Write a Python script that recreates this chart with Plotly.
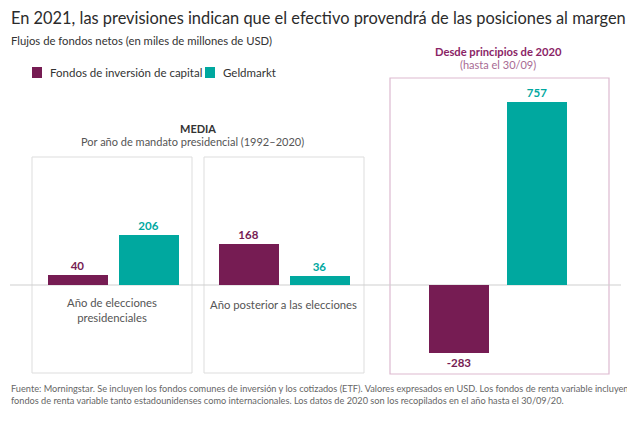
import plotly.graph_objects as go

# page body has an 8px margin, so the figure is drawn 8px in and kept inside the window
PAGE = 8
W, H = 635 - 2 * PAGE, 421 - 2 * PAGE

series = ["Fondos de inversión de capital", "Geldmarkt"]
series_colors = ["#761C53", "#00A89F"]
panels = ["Año de elecciones<br>presidenciales", "Año posterior a las elecciones", "Desde 2020"]
equity = [40, 168, -283]
money_market = [206, 36, 757]


def px(x):
    # window pixel -> paper fraction
    return (x - PAGE) / W


def py(y):
    return 1 - (y - PAGE) / H


# zero line at window y=285, 0.242 px per unit
scale = 0.242
zero_y = 285 - PAGE
y_range = [-(H - zero_y) / scale, zero_y / scale]

# x domains (window pixels) for each panel's bar group
domains = [(41.5, 183.5), (212.5, 354.5), (420, 576)]
bar_px = 60

fig = go.Figure()
for i, panel in enumerate(panels):
    ax = "x" if i == 0 else "x%d" % (i + 1)
    d0, d1 = domains[i]
    w = bar_px / (d1 - d0)
    for s, vals in enumerate([equity, money_market]):
        fig.add_trace(go.Bar(
            x=[panel], y=[vals[i]],
            xaxis=ax, yaxis="y",
            name=series[s], legendgroup=series[s], showlegend=False,
            marker=dict(color=series_colors[s], line=dict(width=0)),
            width=w,
            text=[vals[i]], textposition="outside", cliponaxis=False,
            textfont=dict(color=series_colors[s], size=11.5, family="Lato", weight="bold"),
            hoverinfo="skip",
        ))

layout_axes = {}
for i in range(3):
    key = "xaxis" if i == 0 else "xaxis%d" % (i + 1)
    d0, d1 = domains[i]
    layout_axes[key] = dict(domain=[px(d0), px(d1)], anchor="y", visible=False,
                            range=[-0.5, 0.5], fixedrange=True)

gray = "#DDDDDD"
pink = "#DDB9D0"
shapes = [
    dict(type="rect", xref="paper", yref="paper", x0=px(32), x1=px(192), y0=py(373), y1=py(157),
         line=dict(color=gray, width=1), layer="below"),
    dict(type="rect", xref="paper", yref="paper", x0=px(204), x1=px(364), y0=py(373), y1=py(157),
         line=dict(color=gray, width=1), layer="below"),
    dict(type="rect", xref="paper", yref="paper", x0=px(390), x1=px(609), y0=py(374), y1=py(78),
         line=dict(color=pink, width=1.2), layer="below"),
    dict(type="line", xref="paper", yref="y", x0=px(10), x1=px(621), y0=0, y1=0,
         line=dict(color="#CFCFCF", width=1), layer="below"),
]

font = "Lato"
annotations = [
    dict(text="En 2021, las previsiones indican que el efectivo provendrá de las posiciones al margen",
         x=px(9), y=py(17), xanchor="left", yanchor="middle",
         font=dict(size=16.4, color="#2B2B2B", family=font)),
    dict(text="Flujos de fondos netos (en miles de millones de USD)",
         x=px(9), y=py(40), xanchor="left", yanchor="middle",
         font=dict(size=11.3, color="#333333", family=font)),
    dict(text="<b>MEDIA</b>", x=px(198), y=py(128), xanchor="center", yanchor="middle",
         font=dict(size=11, color="#333333", family=font)),
    dict(text="Por año de mandato presidencial (1992–2020)", x=px(192), y=py(142),
         xanchor="center", yanchor="middle", font=dict(size=11, color="#555555", family=font)),
    dict(text="<b>Desde principios de 2020</b>", x=px(498), y=py(51), xanchor="center",
         yanchor="middle", font=dict(size=11.2, color="#8A2466", family=font)),
    dict(text="(hasta el 30/09)", x=px(498), y=py(65), xanchor="center", yanchor="middle",
         font=dict(size=11, color="#A86A93", family=font)),
    dict(text=panels[0], x=px(112), y=py(310), xanchor="center", yanchor="middle",
         font=dict(size=11.3, color="#555555", family=font)),
    dict(text=panels[1], x=px(283), y=py(304), xanchor="center", yanchor="middle",
         font=dict(size=11.3, color="#555555", family=font)),
    dict(text="Fuente: Morningstar. Se incluyen los fondos comunes de inversión y los cotizados (ETF). "
              "Valores expresados en USD. Los fondos de renta variable incluyen<br>"
              "fondos de renta variable tanto estadounidenses como internacionales. "
              "Los datos de 2020 son los recopilados en el año hasta el 30/09/20.",
         x=px(9), y=py(394), xanchor="left", yanchor="middle", align="left",
         font=dict(size=9.2, color="#666666", family=font)),
]

# legend drawn as swatches + labels to keep the original tight spacing
legend_x = [32, 205]
for s in range(len(series)):
    x0 = legend_x[s]
    shapes.append(dict(type="rect", xref="paper", yref="paper",
                       x0=px(x0), x1=px(x0 + 10), y0=py(78), y1=py(67),
                       fillcolor=series_colors[s], line=dict(width=0)))
    annotations.append(dict(text=series[s], x=px(x0 + 16), y=py(72.5), xanchor="left",
                            yanchor="middle", font=dict(size=11.5, color="#333333", family=font)))

for a in annotations:
    a.update(xref="paper", yref="paper", showarrow=False)

fig.update_layout(
    width=W, height=H,
    margin=dict(l=0, r=0, t=0, b=0),
    paper_bgcolor="white", plot_bgcolor="white",
    barmode="group", bargap=0, bargroupgap=0,
    yaxis=dict(range=y_range, visible=False, domain=[0, 1], fixedrange=True),
    showlegend=False,
    shapes=shapes,
    annotations=annotations,
    font=dict(family=font),
)
fig.update_layout(**layout_axes)

fig.write_html("out.html", config={"displayModeBar": False})
